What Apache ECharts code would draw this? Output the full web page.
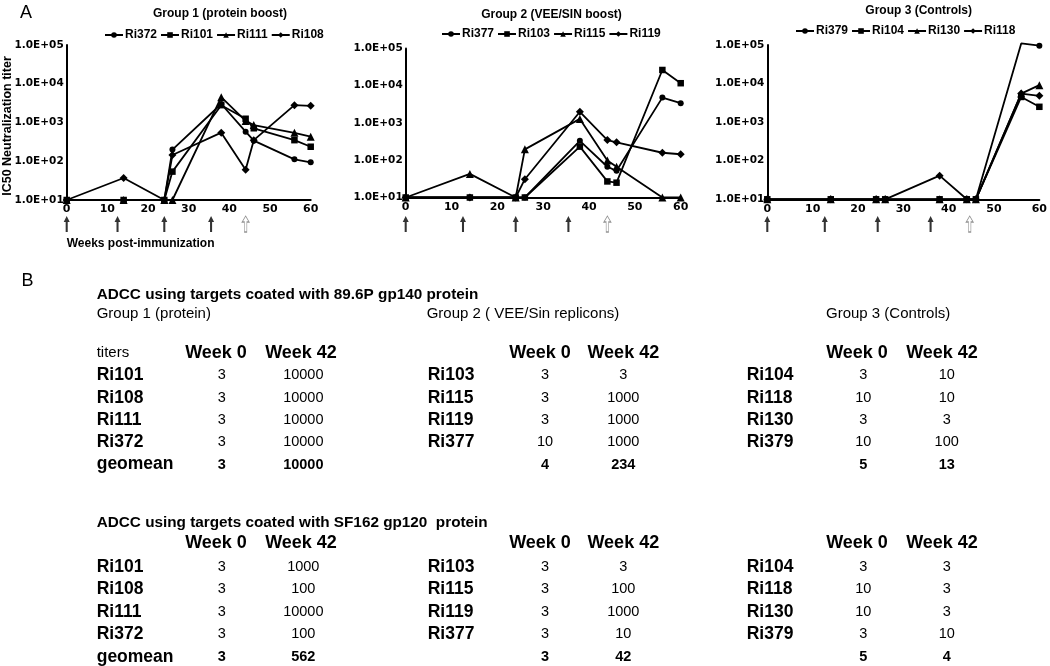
<!DOCTYPE html>
<html><head><meta charset="utf-8">
<script src="https://cdn.jsdelivr.net/npm/echarts@6/dist/echarts.min.js"></script>
<style>html,body{margin:0;padding:0;background:#fff}#c{width:1050px;height:666px}</style>
</head><body><div id="c"></div>
<script>
// ---------- Panel A data ----------
const weeks = [0, 14, 24, 26, 38, 44, 46, 56, 60];
const xTickLabels = ['0', '10', '20', '30', '40', '50', '60'];
const yTickLabels = ['1.0E+01', '1.0E+02', '1.0E+03', '1.0E+04', '1.0E+05'];
const panelTitles = ['Group 1 (protein boost)', 'Group 2 (VEE/SIN boost)', 'Group 3 (Controls)'];

const g1Names = ['Ri372', 'Ri101', 'Ri111', 'Ri108'];
const g1Ri372 = [10, 10, 10, 200, 3000, 580, 340, 112, 94];
const g1Ri101 = [10, 10, 10, 54, 2800, 1250, 710, 350, 237];
const g1Ri111 = [10, 10, 10, 10, 4500, 1100, 860, 540, 430];
const g1Ri108 = [10, 37, 10, 145, 546, 60, 350, 2800, 2700];

const g2Names = ['Ri377', 'Ri103', 'Ri115', 'Ri119'];
const g2Ri377 = [10, 10, 10, 10, 333, 67, 52, 4800, 3400];
const g2Ri103 = [10, 10, 10, 10, 232, 27, 25, 26500, 11700];
const g2Ri115 = [10, 43, 10, 196, 1290, 99, 67, 10, 10];
const g2Ri119 = [10, 10, 10, 31, 2000, 348, 303, 159, 145];

const g3Names = ['Ri379', 'Ri104', 'Ri130', 'Ri118'];
const g3Ri379 = [10, 10, 10, 10, 10, 10, 10, 110000, 96000];
const g3Ri104 = [10, 10, 10, 10, 10, 10, 10, 4500, 2500];
const g3Ri130 = [10, 10, 10, 10, 10, 10, 10, 5500, 9100];
const g3Ri118 = [10, 10, 10, 10, 41, 10, 10, 5500, 4800];

const immunizationWeeks = [0, 12.5, 24, 35.5];
const boostWeeks = [44];

// ---------- Panel B data ----------
const groupLabels = ['Group 1 (protein)', 'Group 2 ( VEE/Sin replicons)', 'Group 3 (Controls)'];
const tableHeaders = ['Week 0', 'Week 42'];
const gp140Title = 'ADCC using targets coated with 89.6P gp140 protein';
const sf162Title = 'ADCC using targets coated with SF162 gp120  protein';
const animalNames = [['Ri101', 'Ri108', 'Ri111', 'Ri372'], ['Ri103', 'Ri115', 'Ri119', 'Ri377'], ['Ri104', 'Ri118', 'Ri130', 'Ri379']];
const gp140Week0 = [[3, 3, 3, 3], [3, 3, 3, 10], [3, 10, 3, 10]];
const gp140Week42 = [[10000, 10000, 10000, 10000], [3, 1000, 1000, 1000], [10, 10, 3, 100]];
const gp140Geomean = [[3, 10000], [4, 234], [5, 13]];
const sf162Week0 = [[3, 3, 3, 3], [3, 3, 3, 3], [3, 10, 10, 3]];
const sf162Week42 = [[1000, 100, 10000, 100], [3, 100, 1000, 10], [3, 3, 3, 10]];
const sf162Geomean = [[3, 562], [3, 42], [5, 4]];

// ---------- build ----------
const panels = [
  { names: g1Names, vals: [g1Ri372, g1Ri101, g1Ri111, g1Ri108] },
  { names: g2Names, vals: [g2Ri377, g2Ri103, g2Ri115, g2Ri119] },
  { names: g3Names, vals: [g3Ri379, g3Ri104, g3Ri130, g3Ri118] }
];
const shapes = ['circle', 'rect', 'triangle', 'diamond'];
const shapeSizes = [6, 6.5, 8, 8];
const plotGrids = [
  { left: 66.7, top: 45, width: 244, height: 155 },
  { left: 405.7, top: 48.5, width: 275, height: 149 },
  { left: 767.3, top: 45, width: 276, height: 154.3 }
];
const titlePos = [[220, 13.3], [551.5, 15], [918.7, 10.5]];
const legendPos = [[104, 29], [441, 28], [795, 25]];
const YMAX = 100000;

const grid = [], xAxis = [], yAxis = [], series = [], legend = [];
plotGrids.forEach((g) => grid.push(Object.assign({ containLabel: false }, g)));
plotGrids.forEach((g) => grid.push({ containLabel: false, left: g.left, width: g.width, top: 216, height: 16 }));
const axisFont = { fontFamily: 'DejaVu Sans', fontWeight: 'bold', color: '#000' };
plotGrids.forEach((g, i) => {
  xAxis.push({
    type: 'value', gridIndex: i, min: 0, max: 60, interval: 10,
    axisLine: { show: true, lineStyle: { color: '#000', width: 2 } },
    axisTick: { show: false }, splitLine: { show: false },
    axisLabel: Object.assign({ fontSize: 11, margin: 4, formatter: (v) => xTickLabels[Math.round(v / 10)] }, axisFont)
  });
  yAxis.push({
    type: 'log', logBase: 10, gridIndex: i, min: 10, max: YMAX,
    axisLine: { show: true, onZero: false, lineStyle: { color: '#000', width: 2 } },
    axisTick: { show: false }, splitLine: { show: false }, minorTick: { show: false },
    axisLabel: Object.assign({ fontSize: 10.5, margin: 3, formatter: (v) => yTickLabels[Math.round(Math.log10(v)) - 1] }, axisFont)
  });
});
plotGrids.forEach((g, i) => {
  xAxis.push({ type: 'value', gridIndex: 3 + i, min: 0, max: 60, show: false });
  yAxis.push({ type: 'value', gridIndex: 3 + i, min: 0, max: 1, show: false });
});

const arrowPath = 'path://M3.5,0 L7,6 L4.7,6 L4.7,16 L2.3,16 L2.3,6 L0,6 Z';
panels.forEach((p, i) => {
  p.names.forEach((nm, k) => {
    series.push({
      type: 'line', name: nm, xAxisIndex: i, yAxisIndex: i,
      data: weeks.map((w, j) => {
        const v = p.vals[k][j];
        return v > YMAX ? { value: [w, v], symbol: 'none' } : [w, v];
      }),
      clip: false,
      symbol: shapes[k], symbolSize: shapeSizes[k],
      lineStyle: { color: '#000', width: 1.8 },
      itemStyle: { color: '#000' },
      emphasis: { disabled: true }, silent: true, z: 3 + k
    });
  });
  legend.push({
    data: p.names, left: legendPos[i][0], top: legendPos[i][1],
    itemWidth: 18, itemHeight: 7, itemGap: 3, padding: 0,
    inactiveColor: '#000', selectedMode: false,
    textStyle: { fontSize: 12, fontWeight: 'bold', fontFamily: 'Liberation Sans', color: '#000', padding: [0, 0, 0, -3] }
  });
  series.push({
    type: 'scatter', xAxisIndex: 3 + i, yAxisIndex: 3 + i, silent: true,
    data: immunizationWeeks.map(w => [w, 0.5]),
    symbol: arrowPath, symbolSize: [6, 16], itemStyle: { color: '#000' }
  });
  series.push({
    type: 'scatter', xAxisIndex: 3 + i, yAxisIndex: 3 + i, silent: true,
    data: boostWeeks.map(w => [w, 0.5]),
    symbol: arrowPath, symbolSize: [7, 16],
    itemStyle: { color: '#fff', borderColor: '#777', borderWidth: 0.9 }
  });
});

// ---------- text / tables ----------
const graphic = [];
function txt(x, y, text, size, weight, align, family, rot) {
  const el = {
    type: 'text', x: x, y: y, silent: true,
    style: { text: String(text), fontSize: size, fontWeight: weight || 'normal',
      fontFamily: family || 'Liberation Sans', fill: '#000',
      align: align || 'left', verticalAlign: 'middle' }
  };
  if (rot) el.rotation = rot;
  graphic.push(el);
}
txt(20, 13.5, 'A', 18, 'normal', 'left');
panelTitles.forEach((t, i) => txt(titlePos[i][0], titlePos[i][1], t, 12, 'bold', 'center'));
txt(8, 126, 'IC50 Neutralization titer', 12.5, 'bold', 'center', 'Liberation Sans', Math.PI / 2);
txt(66.7, 244, 'Weeks post-immunization', 12, 'bold', 'left');

txt(21.5, 281, 'B', 18, 'normal', 'left');
const nameX = [96.7, 427.7, 746.7];
const hdr0X = [216, 540, 857];
const hdr42X = [301, 623.3, 942];
const val0X = [221.7, 545, 863.3];
const val42X = [303.3, 623.3, 946.7];
const groupLabelX = [96.7, 426.7, 826];

function table(title, topY, hdrY, rowY, geoY, w0, w42, geo, showGroups, groupY) {
  txt(96.7, topY, title, 15.3, 'bold', 'left');
  if (showGroups) {
    groupLabels.forEach((g, i) => txt(groupLabelX[i], groupY, g, 15, 'normal', 'left'));
    txt(96.7, hdrY, 'titers', 15, 'normal', 'left');
  }
  for (let i = 0; i < 3; i++) {
    txt(hdr0X[i], hdrY, tableHeaders[0], 18, 'bold', 'center');
    txt(hdr42X[i], hdrY, tableHeaders[1], 18, 'bold', 'center');
    animalNames[i].forEach((nm, r) => {
      txt(nameX[i], rowY[r], nm, 17.5, 'bold', 'left');
      txt(val0X[i], rowY[r], w0[i][r], 14.5, 'normal', 'center');
      txt(val42X[i], rowY[r], w42[i][r], 14.5, 'normal', 'center');
    });
    txt(val0X[i], geoY, geo[i][0], 14.5, 'bold', 'center');
    txt(val42X[i], geoY, geo[i][1], 14.5, 'bold', 'center');
  }
  txt(96.7, geoY, 'geomean', 17.5, 'bold', 'left');
}
table(gp140Title, 295, 353.3, [375, 398, 420, 442.3], 464.5, gp140Week0, gp140Week42, gp140Geomean, true, 314);
table(sf162Title, 523, 543.5, [566.7, 589.2, 611.7, 634.2], 656.7, sf162Week0, sf162Week42, sf162Geomean, false, 0);

const chart = echarts.init(document.getElementById('c'), null, { renderer: 'canvas' });
chart.setOption({
  animation: false,
  backgroundColor: '#fff',
  grid: grid, xAxis: xAxis, yAxis: yAxis, series: series, legend: legend,
  graphic: graphic
});
</script></body></html>
